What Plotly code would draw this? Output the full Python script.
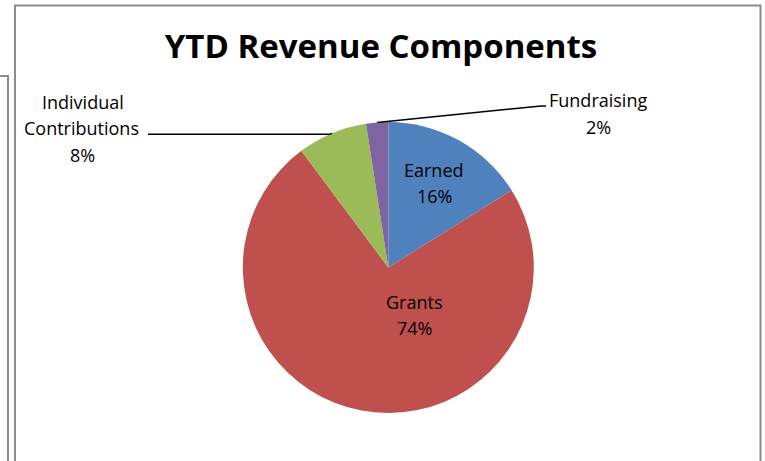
"""
Camembert des composantes du revenu cumulé (YTD), style graphique Excel.
"""

import math

import plotly.graph_objects as go

# ─────────────────────────────────────────────────────────────────
# Données
# ─────────────────────────────────────────────────────────────────
categories = ["Earned", "Grants", "Individual Contributions", "Fundraising"]
shares = [16.1, 73.7, 7.75, 2.45]
slice_colors = ["#4F81BD", "#C0504D", "#9BBB59", "#8064A2"]

TITLE = "YTD Revenue Components"

# ─────────────────────────────────────────────────────────────────
# Géométrie (pixels)
# ─────────────────────────────────────────────────────────────────
W, H = 765, 461
PIE_CX, PIE_CY, PIE_R = 388.3, 267.5, 145.5
FONT = "Open Sans"


def px(x):
    return x / W


def py(y):
    return 1 - y / H


def edge_point(idx):
    """Point du bord du camembert au milieu de la part idx (sens horaire depuis midi)."""
    total = sum(shares)
    start = sum(shares[:idx]) / total
    mid = (start + shares[idx] / total / 2) * 2 * math.pi
    return PIE_CX + PIE_R * math.sin(mid), PIE_CY - PIE_R * math.cos(mid)


fig = go.Figure(
    go.Pie(
        labels=categories,
        values=shares,
        sort=False,
        direction="clockwise",
        rotation=0,
        marker=dict(colors=slice_colors, line=dict(width=0)),
        textinfo="none",
        hoverinfo="label+percent",
        showlegend=False,
        domain=dict(
            x=[px(PIE_CX - PIE_R), px(PIE_CX + PIE_R)],
            y=[py(PIE_CY + PIE_R), py(PIE_CY - PIE_R)],
        ),
    )
)

# étiquettes : une annotation par ligne pour garder l'interligne d'Excel
total = sum(shares)
pct = [f"{round(v / total * 100)}%" for v in shares]
label_lines = {
    0: [("Earned", 434, 170), (pct[0], 434, 196)],
    1: [("Grants", 414, 302), (pct[1], 414, 328)],
    2: [("Individual", 83, 102), ("Contributions", 81, 128), (pct[2], 82, 155)],
    3: [("Fundraising", 598, 100), (pct[3], 598, 127)],
}
for idx, lines in label_lines.items():
    for text, x, y in lines:
        fig.add_annotation(
            text=text, x=px(x), y=py(y), xref="paper", yref="paper",
            showarrow=False, xanchor="center", yanchor="middle",
            font=dict(family=FONT, size=18, color="#000000"),
        )

# traits de rappel vers les petites parts
ex, ey = edge_point(2)
fig.add_shape(
    type="path", xref="paper", yref="paper",
    path=f"M {px(148)},{py(ey + 1)} L {px(ex - 3)},{py(ey + 1)} L {px(ex)},{py(ey)}",
    line=dict(color="#000000", width=1.5),
)
ex, ey = edge_point(3)
fig.add_shape(
    type="path", xref="paper", yref="paper",
    path=f"M {px(ex)},{py(ey)} L {px(541)},{py(106)} L {px(546)},{py(106)}",
    line=dict(color="#000000", width=1.5),
)

# cadre du graphique + bord d'un objet voisin à gauche
fig.add_shape(
    type="rect", xref="paper", yref="paper",
    x0=px(15), x1=px(760.5), y0=py(475), y1=py(5.5),
    line=dict(color="#8C8C8C", width=2),
)
fig.add_shape(
    type="path", xref="paper", yref="paper",
    path=f"M {px(-2)},{py(76)} L {px(8)},{py(76)} L {px(8)},{py(475)}",
    line=dict(color="#8C8C8C", width=2),
)

fig.update_layout(
    width=W,
    height=H,
    margin=dict(l=0, r=0, t=0, b=0),
    paper_bgcolor="#FFFFFF",
    plot_bgcolor="#FFFFFF",
    title=dict(
        text=TITLE,
        x=px(381), xanchor="center",
        y=py(46), yanchor="middle",
        font=dict(family=FONT, size=33, color="#000000", weight="bold"),
    ),
)

# la page HTML ajoute 8 px de marge autour du graphique : on la supprime
fig.write_html(
    "out.html",
    config={"displayModeBar": False},
    post_script="document.body.style.margin = '0';",
)
